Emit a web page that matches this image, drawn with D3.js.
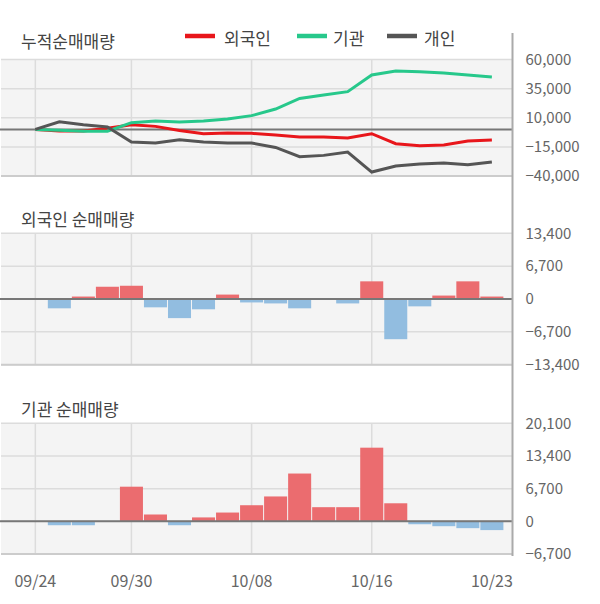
<!DOCTYPE html>
<html>
<head>
<meta charset="utf-8">
<script src="https://cdn.jsdelivr.net/npm/d3@7"></script>
<style>
  html, body { margin: 0; padding: 0; background: #fff; }
  svg { display: block; }
  text { font-family: "Noto Sans CJK KR", "Noto Sans", sans-serif; }
</style>
</head>
<body>
<svg id="chart" width="600" height="604"></svg>
<script>
// ---- data ----
const dates = ["09/24","09/25","09/26","09/27","09/30","10/01","10/02","10/04","10/07","10/08",
               "10/10","10/11","10/14","10/15","10/16","10/17","10/18","10/21","10/22","10/23"];
const xTickLabels = ["09/24","09/30","10/08","10/16","10/23"];
const gridDates = ["09/24","09/30","10/08","10/16"];

// cumulative net buying (shares)
const cumForeign = [0,-1400,-1400,1000,4000,2600,-900,-3700,-3100,-3400,-4800,-6500,-6500,-7400,-3700,-12300,-14000,-13400,-10000,-9100];
const cumInst    = [0,-800,-1600,-1600,5800,7200,6400,7200,8900,11800,17500,26600,29500,32400,46700,50100,49500,48400,46700,45000];
const cumIndiv   = [0,6600,4000,2100,-10800,-11700,-8800,-10800,-11700,-11700,-15500,-23400,-22300,-19400,-36600,-31400,-29700,-28800,-30300,-28000];

// daily net buying
const netForeign = [0,-1900,500,2500,2700,-1700,-3900,-2100,900,-700,-900,-1900,0,-900,3600,-8200,-1500,700,3600,500];
const netInst    = [0,-800,-800,0,7100,1400,-800,800,1800,3300,5100,9800,2900,2900,15100,3700,-600,-1000,-1400,-1800];

const cumTicks = [60000,35000,10000,-15000,-40000];
const foreignTicks = [13400,6700,0,-6700,-13400];
const instTicks = [20100,13400,6700,0,-6700];

const seriesNames = ["외국인","기관","개인"];
const seriesColors = ["#e8161b","#27c88b","#555555"];
const titles = ["누적순매매량","외국인 순매매량","기관 순매매량"];

// ---- layout ----
const svg = d3.select("#chart");
const plotLeft = 1, plotRight = 512.5;
const x = d3.scaleLinear().domain([-1.47, 19.85]).range([0, 512.3]);
const idx = d => dates.indexOf(d);
const slot = x(1) - x(0);
const fmt = d3.format(",");

function panel(top, bottom, domain, ticks) {
  const y = d3.scaleLinear().domain(domain).range([bottom, top]);
  const g = svg.append("g");
  g.append("rect").attr("x", plotLeft).attr("y", top).attr("width", plotRight - plotLeft)
    .attr("height", bottom - top).attr("fill", "#f4f4f4");
  g.selectAll(".vg").data(gridDates).enter().append("line")
    .attr("x1", d => x(idx(d))).attr("x2", d => x(idx(d)))
    .attr("y1", top).attr("y2", bottom)
    .attr("stroke", "#dcdcdc").attr("stroke-width", 1.5);
  g.selectAll(".hg").data(ticks).enter().append("line")
    .attr("x1", plotLeft).attr("x2", plotRight)
    .attr("y1", d => y(d)).attr("y2", d => y(d))
    .attr("stroke", "#dcdcdc").attr("stroke-width", 1.5);
  g.append("line").attr("x1", plotLeft).attr("x2", plotRight)
    .attr("y1", bottom).attr("y2", bottom).attr("stroke", "#cccccc").attr("stroke-width", 2);
  const axis = d3.axisRight(y).tickValues(ticks).tickSize(0).tickPadding(13).tickFormat(fmt);
  const ag = svg.append("g").attr("transform", `translate(${plotRight},0)`).call(axis);
  ag.select(".domain").remove();
  ag.selectAll("text").attr("font-size", 15).attr("fill", "#666")
    .attr("font-family", "'Noto Sans CJK KR', 'Noto Sans', sans-serif");
  return {y, g};
}

const p1 = panel(59.5, 176, [-40000, 60000], cumTicks);
const zeroLine = (p) => p.g.append("line").attr("x1", 0).attr("x2", plotRight)
  .attr("y1", p.y(0)).attr("y2", p.y(0)).attr("stroke", "#777").attr("stroke-width", 2);
zeroLine(p1);
[cumForeign, cumInst, cumIndiv].forEach((s, k) => {
  const line = d3.line().x((d, i) => x(i)).y(d => p1.y(d));
  p1.g.append("path").datum(s).attr("d", line).attr("fill", "none")
    .attr("stroke", seriesColors[k]).attr("stroke-width", 3);
});

function bars(p, data) {
  const w = slot - 1;
  p.g.selectAll(".bar").data(data.map((v, i) => ({v, i})).filter(d => d.v !== 0 && d.i > 0))
    .enter().append("rect")
    .attr("x", d => x(d.i) - w / 2)
    .attr("width", w)
    .attr("y", d => p.y(Math.max(0, d.v)))
    .attr("height", d => Math.abs(p.y(d.v) - p.y(0)))
    .attr("fill", d => d.v > 0 ? "#eb6c6f" : "#92bde0");
  zeroLine(p);
}
const p2 = panel(233.3, 364.7, [-13400, 13400], foreignTicks);
bars(p2, netForeign);
const p3 = panel(423.3, 554, [-6700, 20100], instTicks);
bars(p3, netInst);

svg.append("line").attr("x1", plotRight).attr("x2", plotRight).attr("y1", 33).attr("y2", 556)
  .attr("stroke", "#aaaaaa").attr("stroke-width", 2);

svg.selectAll(".xl").data(xTickLabels).enter().append("text")
  .attr("x", d => x(idx(d))).attr("y", 580).attr("text-anchor", "middle")
  .attr("dominant-baseline", "central").attr("font-size", 16).attr("fill", "#666").text(d => d);

[[40.5, titles[0]], [218, titles[1]], [408, titles[2]]].forEach(([yy, t]) => {
  svg.append("text").attr("x", 21).attr("y", yy).attr("dominant-baseline", "central")
    .attr("font-size", 17).attr("fill", "#444").text(t);
});

const legX = [185, 297, 387];
seriesNames.forEach((n, k) => {
  svg.append("line").attr("x1", legX[k]).attr("x2", legX[k] + 30).attr("y1", 36).attr("y2", 36)
    .attr("stroke", seriesColors[k]).attr("stroke-width", 4.5);
  svg.append("text").attr("x", legX[k] + (k === 0 ? 39 : k === 1 ? 36 : 37)).attr("y", 37.5)
    .attr("dominant-baseline", "central")
    .attr("font-size", 17).attr("fill", "#444").text(n);
});
</script>
</body>
</html>
